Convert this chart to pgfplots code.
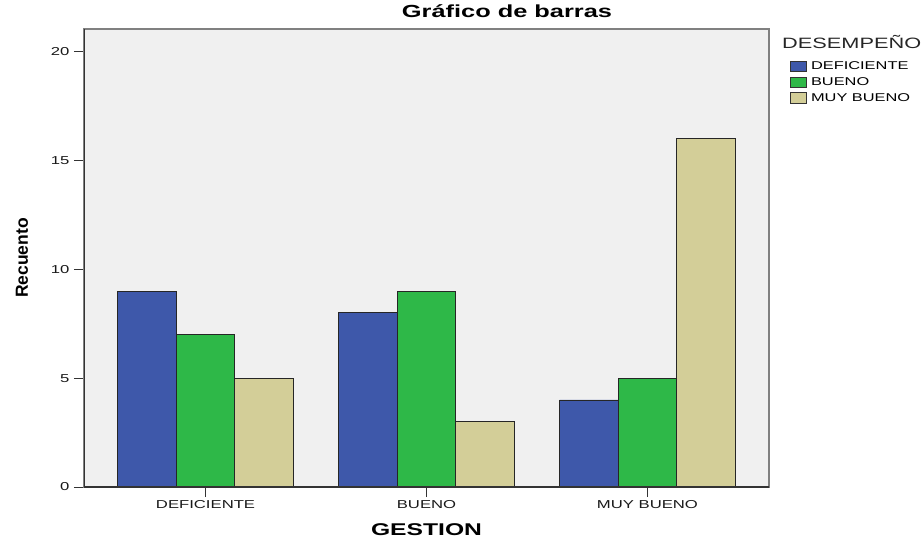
\documentclass[border=0pt]{standalone}
\usepackage{fontspec}
\setmainfont{Liberation Sans}[FakeStretch=1.45]
\newfontfamily\plainfont{Liberation Sans}
\usepackage{pgfplots}
\pgfplotsset{compat=1.18}
\definecolor{cBlue}{RGB}{62,88,170}
\definecolor{cGreen}{RGB}{46,184,72}
\definecolor{cBeige}{RGB}{211,206,152}
\definecolor{cBg}{RGB}{240,240,240}
\begin{document}
\begin{tikzpicture}
\useasboundingbox (0,0) rectangle (922pt,539pt);
\begin{axis}[
  at={(84pt,52pt)}, anchor=south west,
  width=685pt, height=458pt, scale only axis,
  xmin=-0.55, xmax=2.55, ymin=0, ymax=21.05,
  ybar, bar width=0.265,
  axis background/.style={fill=cBg},
  axis line style={draw=black!50, line width=1.2pt},
  xtick={0,1,2}, xticklabels={DEFICIENTE,BUENO,MUY BUENO},
  ytick={0,5,10,15,20},
  tick align=outside, major tick length=10pt,
  tick style={draw=black!80, line width=1pt},
  xtick pos=bottom, ytick pos=left,
  /pgf/number format/assume math mode=true,
  ticklabel style={font=\fontsize{11.5}{13}\selectfont, text=black!90},
  xticklabel style={anchor=base, yshift=-11pt},
  yticklabel style={xshift=-1pt},
  xlabel={GESTION},
  xlabel style={at={(axis description cs:0.5,0)}, anchor=base, yshift=-48.7pt, font=\fontsize{17}{20}\selectfont\bfseries},
  ylabel={\plainfont Recuento},
  ylabel style={at={(axis description cs:-0.0905,0.5)}, anchor=center, font=\fontsize{17.5}{19}\selectfont\bfseries},
  legend style={at={(1.0307,0.934)}, anchor=north west, draw=none, fill=none, inner sep=0pt,
    font=\fontsize{11.3}{12}\selectfont, row sep=2.6pt,
    /tikz/every odd column/.append style={column sep=2pt}},
  legend cell align=left,
  legend image code/.code={\draw[#1, draw=black!80, line width=0.8pt] (0pt,-5.2pt) rectangle (16pt,5.2pt);},
  every axis plot/.append style={draw=black!85, line width=0.9pt},
]
\addplot[fill=cBlue, bar shift=-0.265] coordinates {(0,9) (1,8) (2,4)};
\addplot[fill=cGreen, bar shift=0] coordinates {(0,7) (1,9) (2,5)};
\addplot[fill=cBeige, bar shift=0.265] coordinates {(0,5) (1,3) (2,16)};
\legend{DEFICIENTE,BUENO,MUY BUENO}
\draw[draw=black!80, line width=1.6pt] (rel axis cs:0,1) -- (rel axis cs:0,0) -- (rel axis cs:1,0);
\end{axis}
\node[anchor=base, font=\fontsize{17.5}{20}\selectfont\bfseries] at (507pt,521pt) {Gráfico de barras};
\node[anchor=base west, inner sep=0pt, font=\fontsize{15}{18}\selectfont, text=black!85] at (782pt,490pt) {DESEMPEÑO};
\end{tikzpicture}
\end{document}
